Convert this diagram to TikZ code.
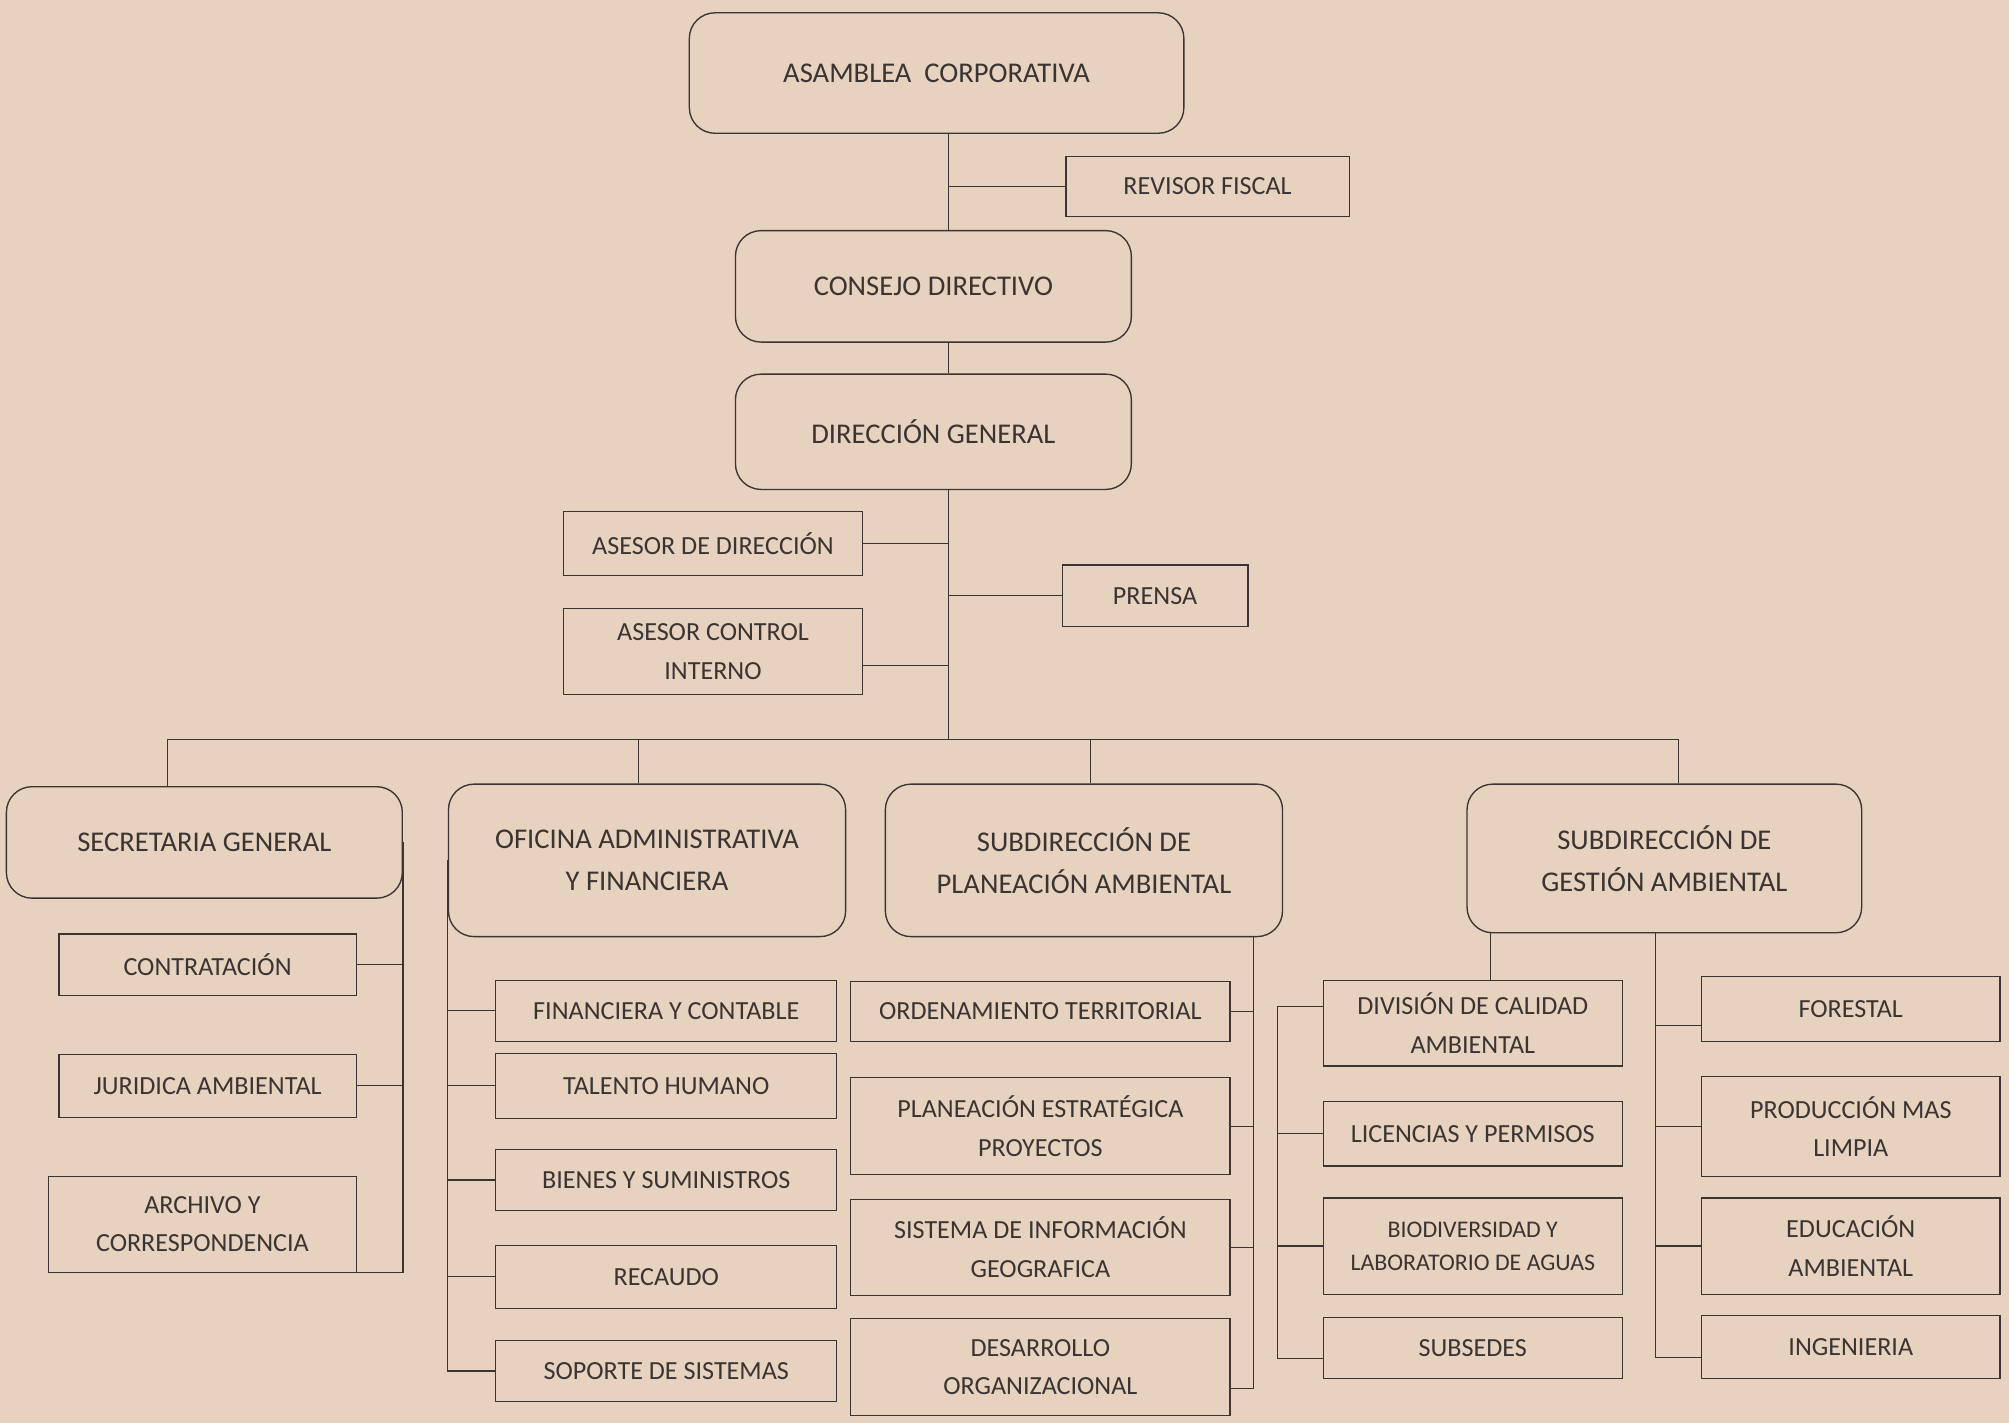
\documentclass[tikz,border=0pt]{standalone}
\usepackage{fontspec}
\setmainfont{Carlito}
\definecolor{papel}{RGB}{231,209,191}
\definecolor{tinta}{RGB}{58,52,50}

\begin{document}
\begin{tikzpicture}[x=0.2mm, y=-0.2mm,
    caja/.style 2 args={minimum width=#1*0.2mm, minimum height=#2*0.2mm},
    jefe/.style={draw=tinta, line width=0.6pt, rounded corners=4mm, inner sep=0pt, align=center, text=tinta, font=\fontsize{12.7}{18.8}\selectfont},
    unidad/.style={draw=tinta, line width=0.5pt, inner sep=0pt, align=center, text=tinta, font=\fontsize{11.6}{17}\selectfont},
    linea/.style={draw=tinta, line width=0.5pt}]

% Hoja
\fill[papel] (0,0) rectangle (1568,1111);
\useasboundingbox (0,0) rectangle (1568,1111);

% Asamblea, consejo y direccion
\node[jefe, caja={386}{94}] (asamblea) at (731,57) {ASAMBLEA\ \ CORPORATIVA};
\node[unidad, caja={221}{47}] (revisor) at (942.5,145.5) {REVISOR FISCAL};
\node[jefe, caja={309}{87}] (consejo) at (728.5,223.5) {CONSEJO DIRECTIVO};
\node[jefe, caja={309}{90}] (direccion) at (728.5,337) {DIRECCIÓN GENERAL};

% Asesores y prensa
\node[unidad, caja={233}{50}] (asesordir) at (556.5,424) {ASESOR DE DIRECCIÓN};
\node[unidad, caja={145}{48}] (prensa) at (901.5,465) {PRENSA};
\node[unidad, caja={233}{67}] (asesorci) at (556.5,508.5) {ASESOR CONTROL\\INTERNO};

% Eje central
\coordinate (eje) at (740,577);
\draw[linea] (asamblea.south -| eje) -- (consejo.north -| eje);
\draw[linea] (revisor.west) -- (revisor.west -| eje);
\draw[linea] (consejo.south -| eje) -- (direccion.north -| eje);
\draw[linea] (direccion.south -| eje) -- (eje);
\draw[linea] (asesordir.east) -- (asesordir.east -| eje);
\draw[linea] ([yshift=-2.2mm]asesorci.east) -- ([yshift=-2.2mm]asesorci.east -| eje);
\draw[linea] (prensa.west) -- (prensa.west -| eje);

% Subdirecciones
\node[jefe, caja={309}{87}] (secretaria) at (159.5,657.5) {SECRETARIA GENERAL};
\node[jefe, caja={310}{119}] (oficina) at (505,671.5) {OFICINA ADMINISTRATIVA\\Y FINANCIERA};
\node[jefe, caja={310}{119}] (planeacion) at (846,671.5) {SUBDIRECCIÓN DE\\PLANEACIÓN AMBIENTAL};
\node[jefe, caja={308}{116}] (gestion) at (1299,670) {SUBDIRECCIÓN DE\\GESTIÓN AMBIENTAL};

\coordinate (b1) at (131,577);
\coordinate (b2) at (498,577);
\coordinate (b3) at (851,577);
\coordinate (b4) at (1310,577);
\draw[linea] (b1) -- (b4);
\foreach \b/\n in {b1/secretaria, b2/oficina, b3/planeacion, b4/gestion}
    \draw[linea] (\b) -- (\b |- \n.north);

% Secretaria general
\node[unidad, caja={232}{48}] (contratacion) at (162,753) {CONTRATACIÓN};
\node[unidad, caja={232}{49}] (juridica) at (162,847.5) {JURIDICA AMBIENTAL};
\node[unidad, caja={240}{75}] (archivo) at (158,955.5) {ARCHIVO Y\\CORRESPONDENCIA};
\draw[linea] (secretaria.east) |- (archivo.south east);
\foreach \n in {contratacion, juridica}
    \draw[linea] (\n.east) -- (\n.east -| secretaria.east);

% Oficina administrativa
\node[unidad, caja={266}{48}] (financiera) at (520,789) {FINANCIERA Y CONTABLE};
\node[unidad, caja={266}{51}] (talento) at (520,847.5) {TALENTO HUMANO};
\node[unidad, caja={266}{48}] (bienes) at (520,921) {BIENES Y SUMINISTROS};
\node[unidad, caja={266}{49}] (recaudo) at (520,996.5) {RECAUDO};
\node[unidad, caja={266}{48}] (soporte) at (520,1070) {SOPORTE DE SISTEMAS};
\draw[linea] (oficina.west) |- (soporte.west);
\foreach \n in {financiera, talento, bienes, recaudo}
    \draw[linea] (\n.west) -- (\n.west -| oficina.west);

% Planeacion ambiental
\node[unidad, caja={296}{47}] (ordenamiento) at (812,789.5) {ORDENAMIENTO TERRITORIAL};
\node[unidad, caja={296}{76}] (estrategica) at (812,879) {PLANEACIÓN ESTRATÉGICA\\PROYECTOS};
\node[unidad, caja={296}{75}] (sig) at (812,973.5) {SISTEMA DE INFORMACIÓN\\GEOGRAFICA};
\node[unidad, caja={296}{76}] (desarrollo) at (812,1067) {DESARROLLO\\ORGANIZACIONAL};
\coordinate (ejepla) at (978,0);
\draw[linea] (planeacion.south -| ejepla) |- ([yshift=-3.4mm]desarrollo.east);
\foreach \n in {ordenamiento, estrategica, sig}
    \draw[linea] (\n.east) -- (\n.east -| ejepla);

% Gestion ambiental
\node[unidad, caja={233}{67}] (division) at (1149.5,798.5) {DIVISIÓN DE CALIDAD\\AMBIENTAL};
\node[unidad, caja={233}{50}] (licencias) at (1149.5,885) {LICENCIAS Y PERMISOS};
\node[unidad, caja={233}{75}, font=\fontsize{10.6}{14.7}\selectfont] (biodiversidad) at (1149.5,972.5) {BIODIVERSIDAD Y\\LABORATORIO DE AGUAS};
\node[unidad, caja={233}{48}] (subsedes) at (1149.5,1052) {SUBSEDES};
\node[unidad, caja={233}{51}] (forestal) at (1444.5,787.5) {FORESTAL};
\node[unidad, caja={233}{78}] (produccion) at (1444.5,879) {PRODUCCIÓN MAS\\LIMPIA};
\node[unidad, caja={233}{75}] (educacion) at (1444.5,972.5) {EDUCACIÓN\\AMBIENTAL};
\node[unidad, caja={233}{49}] (ingenieria) at (1444.5,1051.5) {INGENIERIA};
\coordinate (bajada) at (1163,0);
\coordinate (ejecal) at (997,0);
\coordinate (ejefor) at (1292,0);
\draw[linea] (gestion.south -| bajada) -- (division.north -| bajada);
\draw[linea] ([yshift=2.6mm]division.west) -| ([yshift=-1.6mm]ejecal |- subsedes.west) -- ([yshift=-1.6mm]subsedes.west);
\foreach \n in {licencias, biodiversidad}
    \draw[linea] (\n.west) -- (\n.west -| ejecal);
\draw[linea] (gestion.south -| ejefor) |- ([yshift=-1.6mm]ingenieria.west);
\draw[linea] ([yshift=-2.6mm]forestal.west) -- ([yshift=-2.6mm]forestal.west -| ejefor);
\foreach \n in {produccion, educacion}
    \draw[linea] (\n.west) -- (\n.west -| ejefor);
\end{tikzpicture}
\end{document}
